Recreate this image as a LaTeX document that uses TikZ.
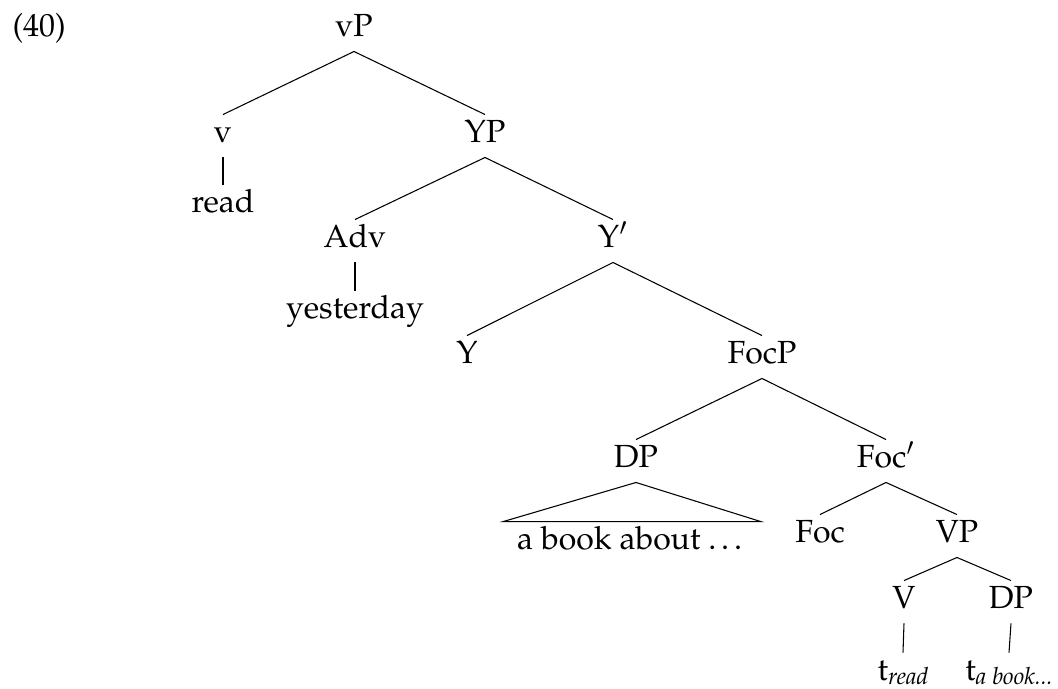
\documentclass[tikz,border=0pt]{standalone}
\usepackage[T1]{fontenc}
\usepackage{mathpazo}
\newcommand{\tracesub}[1]{\raisebox{-1.7pt}{\fontsize{8.9}{9}\selectfont\itshape #1}}
\begin{document}
\begin{tikzpicture}[x=0.375pt,y=-0.375pt,
  lab/.style={anchor=base, inner xsep=0pt, inner ysep=1.9pt,
    text height=8.2pt, text depth=3.7pt, font=\fontsize{12}{14}\selectfont},
  trace/.style={lab, inner ysep=0pt, text height=10.1pt, text depth=2.3pt},
  branch/.style={draw, line width=0.4pt}]
  \useasboundingbox (0,0) rectangle (1058,688);

  % example number
  \node[lab, anchor=base west] (ex) at (12,36) {(40)};

  % tree labels
  \node[lab] (vP)    at (354,36)  {vP};
  \node[lab] (v)     at (223,142) {v};
  \node[lab] (read)  at (223,212) {read};
  \node[lab] (YP)    at (485,142) {YP};
  \node[lab] (Adv)   at (355,247) {Adv};
  \node[lab] (yest)  at (355,318) {yesterday};
  \node[lab] (Ybar)  at (613,247) {Y$'$};
  \node[lab] (Y)     at (467,363) {Y};
  \node[lab] (FocP)  at (762,363) {FocP};
  \node[lab] (DPa)   at (636,467) {DP};
  \node[lab, inner xsep=5pt] (book) at (632,549) {a book about \dots};
  \node[lab] (Focbar) at (886,467) {Foc$'$};
  \node[lab] (Foc)   at (820,542) {Foc};
  \node[lab] (VP)    at (957,542) {VP};
  \node[lab] (V)     at (904,608) {V};
  \node[lab] (DPb)   at (1011,608) {DP};
  \node[trace] (tread) at (903,680) {t\tracesub{read}};
  \node[trace] (tbook) at (1009,680) {t\tracesub{a book...}};

  % branches
  \draw[branch] (vP.south) -- (v.north);
  \draw[branch] (vP.south) -- (YP.north);
  \draw[branch] (v.south) -- (read.north);
  \draw[branch] (YP.south) -- (Adv.north);
  \draw[branch] (YP.south) -- (Ybar.north);
  \draw[branch] (Adv.south) -- (yest.north);
  \draw[branch] (Ybar.south) -- (Y.north);
  \draw[branch] (Ybar.south) -- (FocP.north);
  \draw[branch] (FocP.south) -- (DPa.north);
  \draw[branch] (FocP.south) -- (Focbar.north);
  \draw[branch] (DPa.south) -- (book.north west) -- (book.north east) -- cycle;
  \draw[branch] (Focbar.south) -- (Foc.north);
  \draw[branch] (Focbar.south) -- (VP.north);
  \draw[branch] (VP.south) -- (V.north);
  \draw[branch] (VP.south) -- (DPb.north);
  \draw[branch] (V.south) -- (tread.north);
  \draw[branch] (DPb.south) -- (tbook.north);
\end{tikzpicture}
\end{document}
